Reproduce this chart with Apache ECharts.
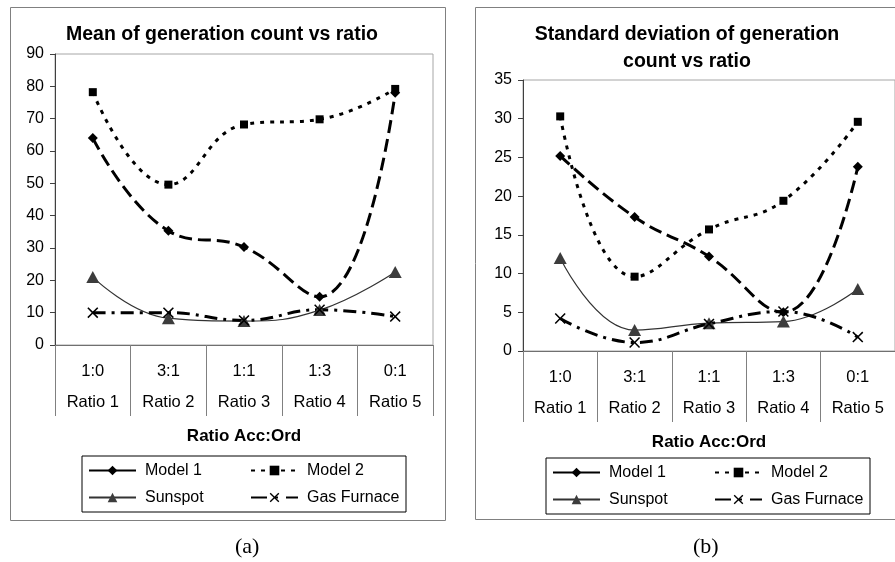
<!DOCTYPE html>
<html>
<head>
<meta charset="utf-8">
<script src="https://cdn.jsdelivr.net/npm/echarts@6/dist/echarts.min.js"></script>
<style>
  html, body { margin: 0; padding: 0; background: #fff; }
  #chart { width: 895px; height: 562px; }
</style>
</head>
<body>
<div id="chart"></div>
<script>
// Category axis: ratio setting and its label
const categories = ['Ratio 1', 'Ratio 2', 'Ratio 3', 'Ratio 4', 'Ratio 5'];
const ratioLabels = ['1:0', '3:1', '1:1', '1:3', '0:1'];
const seriesNames = ['Model 1', 'Model 2', 'Sunspot', 'Gas Furnace'];

// (a) mean of generation count
const meanModel1 = [64, 35.3, 30.3, 14.9, 78];
const meanModel2 = [78.2, 49.6, 68.2, 69.8, 79.2];
const meanSunspot = [21, 8.3, 7.4, 10.8, 22.6];
const meanGasFurnace = [10, 10, 7.6, 10.9, 8.8];

// (b) standard deviation of generation count
const sdModel1 = [25.2, 17.3, 12.2, 5.0, 23.8];
const sdModel2 = [30.3, 9.6, 15.7, 19.4, 29.6];
const sdSunspot = [12.0, 2.7, 3.6, 3.8, 8.0];
const sdGasFurnace = [4.2, 1.1, 3.5, 5.1, 1.8];

const FONT = 'Liberation Sans, Arial, sans-serif';
const X_SYMBOL = 'path://M0,1L1,0L5,4L9,0L10,1L6,5L10,9L9,10L5,6L1,10L0,9L4,5Z';

function lineSeries(name, data, idx) {
  const base = {
    name: name,
    type: 'line',
    xAxisIndex: idx,
    yAxisIndex: idx,
    data: data,
    smooth: 0.45,
    silent: true,
    animation: false
  };
  if (name === 'Model 1') {
    return Object.assign(base, {
      symbol: 'diamond', symbolSize: 10,
      itemStyle: { color: '#000' },
      lineStyle: { color: '#000', width: 3, type: [13, 6] }
    });
  }
  if (name === 'Model 2') {
    return Object.assign(base, {
      symbol: 'rect', symbolSize: 8,
      itemStyle: { color: '#000' },
      lineStyle: { color: '#000', width: 3, type: [4, 6] }
    });
  }
  if (name === 'Sunspot') {
    return Object.assign(base, {
      symbol: 'triangle', symbolSize: [13, 12],
      itemStyle: { color: '#3c3c3c' },
      lineStyle: { color: '#333', width: 1.2, type: 'solid' }
    });
  }
  return Object.assign(base, {
    symbol: X_SYMBOL, symbolSize: 11,
    itemStyle: { color: '#000' },
    lineStyle: { color: '#000', width: 3, type: [13, 6, 3, 6] }
  });
}

function xAxisFor(idx) {
  return {
    type: 'category',
    gridIndex: idx,
    data: categories,
    boundaryGap: true,
    axisLine: { lineStyle: { color: '#707070', width: 1 } },
    axisTick: { show: true, interval: 0, length: 71, lineStyle: { color: '#808080' } },
    axisLabel: {
      interval: 0, margin: 11, color: '#000', fontFamily: FONT, fontSize: 16.5, lineHeight: 31,
      formatter: (v, i) => ratioLabels[i] + '\n' + v
    },
    name: 'Ratio Acc:Ord',
    nameLocation: 'middle',
    nameGap: 83,
    nameTextStyle: { color: '#000', fontFamily: FONT, fontSize: 17, fontWeight: 'bold' },
    splitLine: { show: false }
  };
}

function yAxisFor(idx, max, interval) {
  return {
    type: 'value',
    gridIndex: idx,
    min: 0, max: max, interval: interval,
    axisLine: { show: true, lineStyle: { color: '#404040', width: 1 } },
    axisTick: { show: true, length: 5, lineStyle: { color: '#404040' } },
    axisLabel: { margin: 11, color: '#000', fontFamily: FONT, fontSize: 16 },
    splitLine: { show: false }
  };
}

function legendFor(left, top) {
  return {
    data: [
      { name: 'Model 1', lineStyle: { type: 'solid' } },
      { name: 'Model 2' },
      { name: 'Sunspot' },
      { name: 'Gas Furnace', lineStyle: { type: [16, 8, 3, 8] } }
    ],
    left: left, top: top,
    width: 330,
    orient: 'horizontal',
    itemWidth: 47, itemHeight: 12, itemGap: 10,
    padding: [6, 4, 6, 6],
    borderColor: '#000', borderWidth: 1,
    selectedMode: false,
    textStyle: { color: '#000', fontFamily: FONT, fontSize: 16, width: 95, lineHeight: 17, overflow: 'none', padding: [0, 0, 0, 4] }
  };
}

const chart = echarts.init(document.getElementById('chart'), null, { renderer: 'canvas' });

chart.setOption({
  backgroundColor: '#fff',
  animation: false,
  title: [
    {
      text: 'Mean of generation count vs ratio',
      left: 222, top: 24, textAlign: 'center', padding: 0,
      textStyle: { color: '#000', fontFamily: FONT, fontSize: 19.5, fontWeight: 'bold', lineHeight: 22 }
    },
    {
      text: 'Standard deviation of generation\ncount vs ratio',
      left: 687, top: 21, textAlign: 'center', padding: 0,
      textStyle: { color: '#000', fontFamily: FONT, fontSize: 19.5, fontWeight: 'bold', lineHeight: 27 }
    }
  ],
  grid: [
    { left: 55, top: 54, width: 378, height: 291, show: true, borderColor: '#a6a6a6', borderWidth: 1, backgroundColor: 'transparent' },
    { left: 523, top: 80, width: 373, height: 271, show: true, borderColor: '#a6a6a6', borderWidth: 1, backgroundColor: 'transparent' }
  ],
  xAxis: [xAxisFor(0), xAxisFor(1)],
  yAxis: [yAxisFor(0, 90, 10), yAxisFor(1, 35, 5)],
  legend: [legendFor(82, 456), legendFor(546, 458)],
  graphic: [
    { type: 'rect', silent: true, z: -1, shape: { x: 10.5, y: 7.5, width: 435, height: 513 },
      style: { fill: 'none', stroke: '#808080', lineWidth: 1 } },
    { type: 'rect', silent: true, z: -1, shape: { x: 475.5, y: 7.5, width: 430, height: 512 },
      style: { fill: 'none', stroke: '#808080', lineWidth: 1 } },
    { type: 'text', silent: true, left: 235, top: 536,
      style: { text: '(a)', fill: '#000', font: '22px "Liberation Serif", "Times New Roman", serif' } },
    { type: 'text', silent: true, left: 693, top: 536,
      style: { text: '(b)', fill: '#000', font: '22px "Liberation Serif", "Times New Roman", serif' } }
  ],
  series: [
    lineSeries('Model 1', meanModel1, 0),
    lineSeries('Model 2', meanModel2, 0),
    lineSeries('Sunspot', meanSunspot, 0),
    lineSeries('Gas Furnace', meanGasFurnace, 0),
    lineSeries('Model 1', sdModel1, 1),
    lineSeries('Model 2', sdModel2, 1),
    lineSeries('Sunspot', sdSunspot, 1),
    lineSeries('Gas Furnace', sdGasFurnace, 1)
  ]
});
</script>
</body>
</html>
